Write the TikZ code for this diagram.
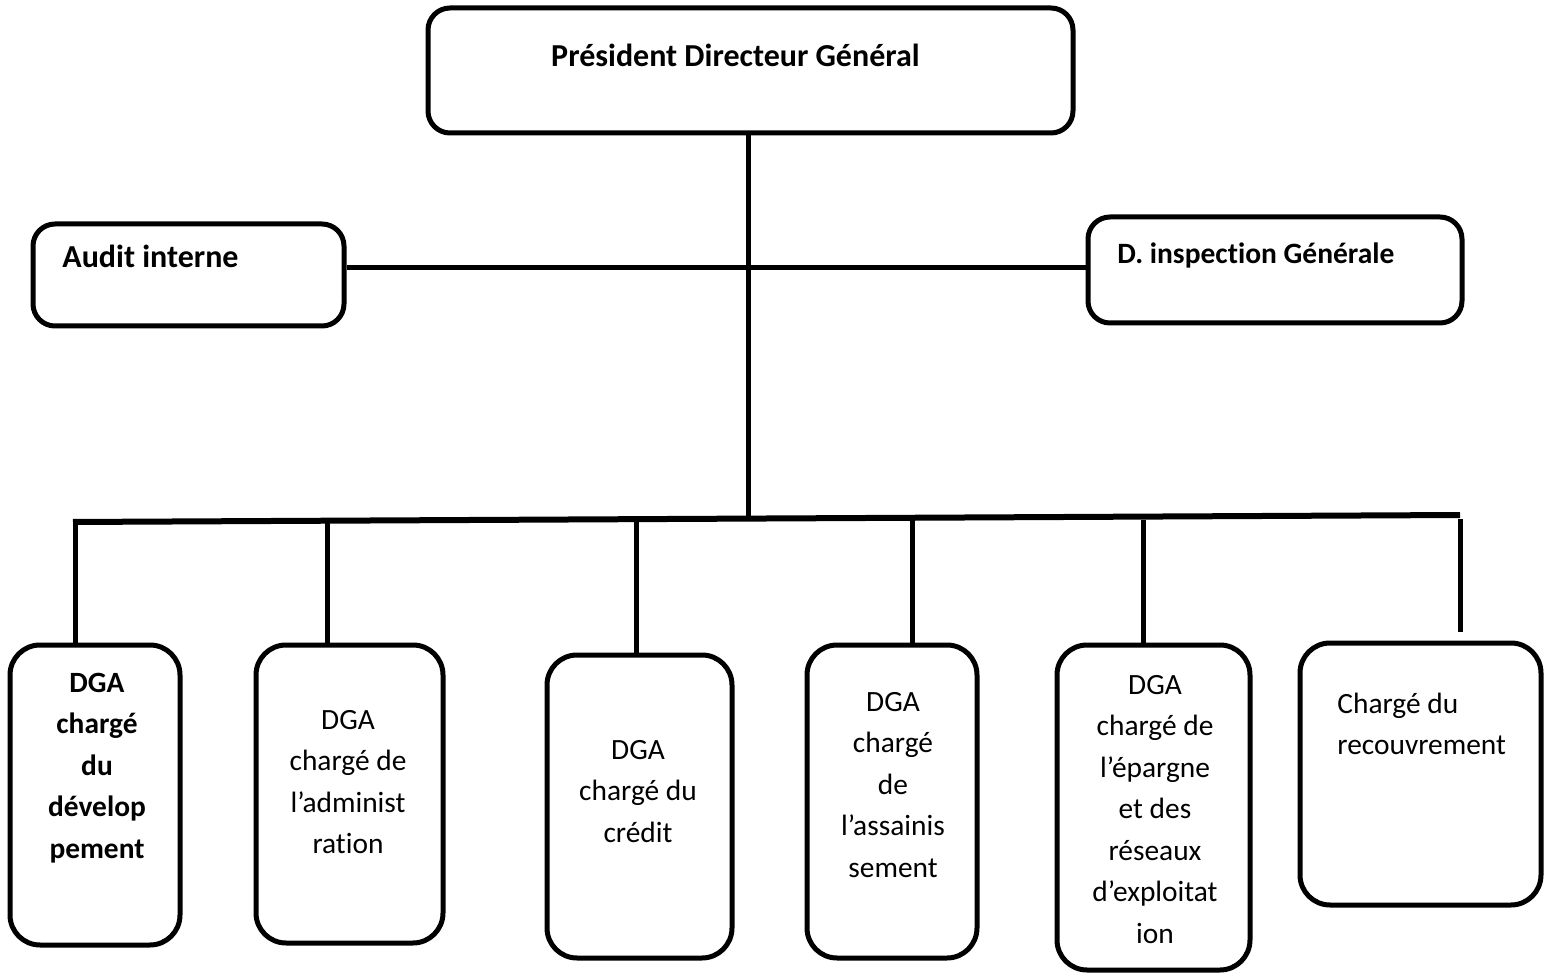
\documentclass[tikz,border=0pt]{standalone}
\usepackage{fontspec}
\setmainfont{Carlito}[Ligatures=NoCommon]
\usetikzlibrary{positioning}

\tikzset{
    box/.style={draw, line width=2.5pt, rounded corners=15pt, inner sep=0pt},
    topbox/.style={box, rounded corners=11pt},
    lbl/.style={inner sep=0pt, align=center, font=\fontsize{14.7}{20.75}\selectfont},
    toplbl/.style={lbl, font=\fontsize{16}{20.75}\selectfont\bfseries},
    link/.style={line width=2.5pt},
}

\begin{document}
\begin{tikzpicture}[x=0.5pt,y=-0.5pt,line cap=butt]
            \useasboundingbox (0,0) rectangle (1544,973);

            % draw the top boxes
            \node[topbox, minimum width=322.5pt, minimum height=62.5pt] (pdg) at (750.5,70.5) {};
            \node[toplbl, anchor=base] (tpdg) at (735.5,67) {Président Directeur Général};

            \node[topbox, minimum width=155.5pt, minimum height=51pt] (audit) at (188.5,275) {};
            \node[toplbl, anchor=base west] (taudit) at (62,268) {Audit interne};

            \node[topbox, minimum width=187pt, minimum height=53pt] (insp) at (1275,270) {};
            \node[lbl, anchor=base west, font=\fontsize{14.75}{20.75}\selectfont\bfseries] (tinsp) at (1117,264) {D. inspection Générale};

            % the lines between them
            \coordinate (mid) at (748,268);
            \coordinate (stem) at (748,520);
            \draw[link] (pdg.south -| stem) -- (stem);
            \draw[link] (audit.east |- mid) -- (insp.west |- mid);

            % the bottom boxes
            \node[box, minimum width=85pt, minimum height=150pt] (b1) at (95,795) {};
            \node[box, minimum width=93.5pt, minimum height=149pt] (b2) at (349.5,794) {};
            \node[box, minimum width=92.5pt, minimum height=151.5pt] (b3) at (639.5,806.5) {};
            \node[box, minimum width=85pt, minimum height=156.5pt] (b4) at (892,801.5) {};
            \node[box, minimum width=96.5pt, minimum height=162.5pt] (b5) at (1153.5,807.5) {};
            \node[box, minimum width=120.5pt, minimum height=131pt] (b6) at (1420.5,774) {};

            % text in them (base = last line)
            \node[lbl, anchor=base, font=\fontsize{14.7}{20.75}\selectfont\bfseries] (t1) at (97,858)
                {DGA\\chargé\\du\\dévelop\\pement};
            \node[lbl, anchor=base] (t2) at (348,853.5) {DGA\\chargé de\\l’administ\\ration};
            \node[lbl, anchor=base] (t3) at (638,842) {DGA\\chargé du\\crédit};
            \node[lbl, anchor=base] (t4) at (893,877) {DGA\\chargé\\de\\l’assainis\\sement};
            \node[lbl, anchor=base] (t5) at (1155,943) {DGA\\chargé de\\l’épargne\\et des\\réseaux\\d’exploitat\\ion};
            \node[lbl, anchor=base west, align=left] (t6) at (1337,754.5) {Chargé du\\recouvrement};

            % the long line and the drops
            \coordinate (busL) at (73,522);
            \coordinate (busR) at (1460,515);
            \draw[line width=3pt] (busL) -- (busR);
            \foreach \x/\b in {75/b1, 327/b2, 636/b3, 912/b4, 1143/b5}
                \draw[link] (\x,520) -- (\x,520 |- \b.north);
            \draw[link] (1460,519) -- (1460,632);
        \end{tikzpicture}
\end{document}
